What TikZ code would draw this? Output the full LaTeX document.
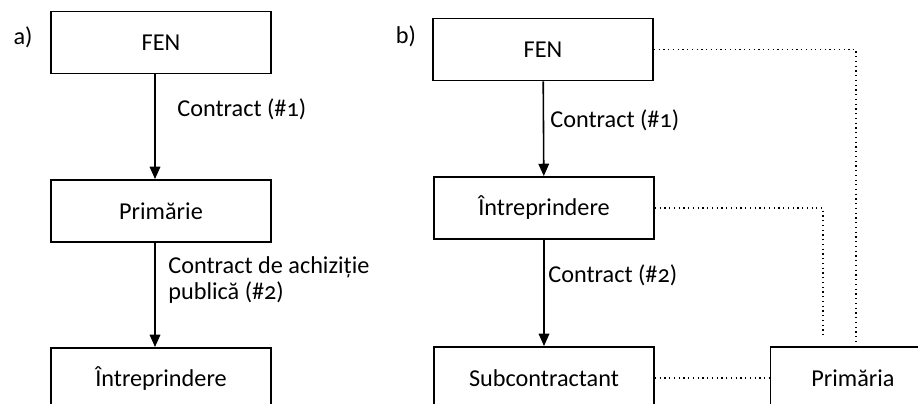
\documentclass[tikz,border=0pt]{standalone}
\usepackage{fontspec}
\setmainfont[Numbers=OldStyle]{Carlito}
\usetikzlibrary{arrows.meta}

\begin{document}
\begin{tikzpicture}[x=0.02cm, y=-0.02cm, font=\fontsize{13.8}{14.8}\selectfont,
    box/.style={draw, line width=1.1pt, minimum width=4.4cm, minimum height=1.24cm, inner sep=0pt},
    flow/.style={-{Triangle[length=7pt,width=6pt]}, line width=0.9pt},
    link/.style={dotted, line width=0.7pt},
    lbl/.style={anchor=west, inner sep=0pt, align=left}]
        \useasboundingbox (0,0) rectangle (918,404);
        \clip (0,0) rectangle (918,404);

        % a)
        \node (tagA) at (23,37) {a)};
        \node[box] (fenA) at (161,42.5) {FEN};
        \node[box] (primA) at (161,211) {Primărie};
        \node[box] (intrA) at (161,379) {Întreprindere};

        \draw[flow] ([xshift=-0.12cm]fenA.south) to ([xshift=-0.12cm]primA.north);
        \draw[flow] ([xshift=-0.12cm]primA.south) to ([xshift=-0.12cm]intrA.north);
        \node[lbl] (c1A) at (177,109) {Contract (\#1)};
        \node[lbl] (c2A) at (168,280) {Contract de achiziție\\publică (\#2)};

        % b)
        \node (tagB) at (406,36) {b)};
        \node[box] (fenB) at (543,49.5) {FEN};
        \node[box] (intrB) at (544,208) {Întreprindere};
        \node[box] (subB) at (544,378) {Subcontractant};
        \node[box, minimum width=3.3cm] (primB) at (853,378) {Primăria};

        \draw[flow] (fenB) to (intrB);
        \draw[flow] (intrB) to (subB);
        \node[lbl] (c1B) at (550,120) {Contract (\#1)};
        \node[lbl] (c2B) at (548,275) {Contract (\#2)};

        \draw[link] (fenB.east) -| ([xshift=0.06cm]primB.north);
        \draw[link] (intrB.east) -| ([xshift=-0.6cm,yshift=0.2cm]primB.north);
        \draw[link] (subB.east) to (primB.west);

      \end{tikzpicture}
\end{document}
